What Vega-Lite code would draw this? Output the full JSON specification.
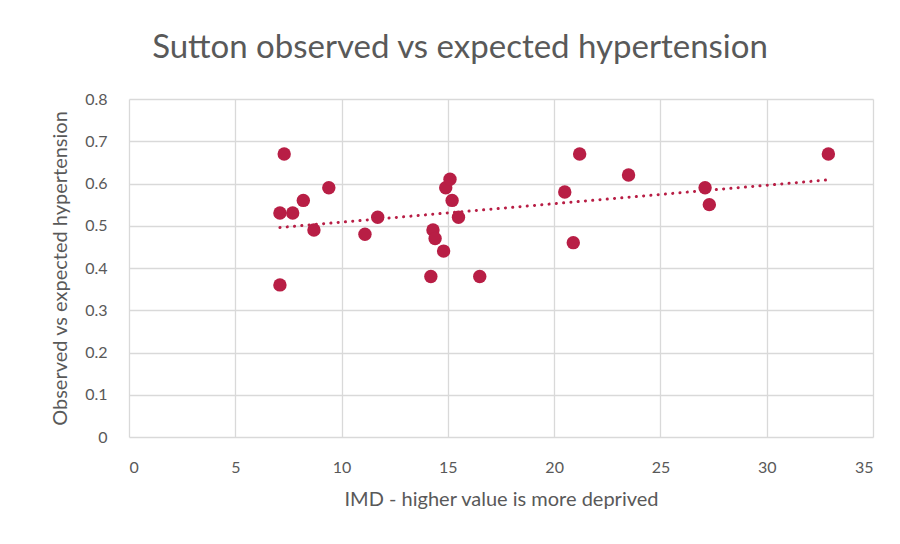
{
  "$schema": "https://vega.github.io/schema/vega-lite/v6.json",
  "autosize": "none",
  "width": 744,
  "height": 338,
  "padding": {"left": 129, "top": 99, "right": 27, "bottom": 107},
  "background": "white",
  "config": {
    "font": "Lato",
    "view": {"stroke": null},
    "axis": {"labelColor": "#595959", "titleColor": "#595959", "labelFontSize": 16, "titleFontSize": 20, "titleFontWeight": "normal", "gridColor": "#d9d9d9", "gridWidth": 1.3, "domain": false, "ticks": false, "labelOverlap": false}
  },
  "title": {"text": "Sutton observed vs expected hypertension", "fontSize": 33, "fontWeight": "normal", "color": "#595959", "anchor": "middle", "dx": -41, "offset": 26, "font": "Lato"},
  "data": {"values": [
    {"imd": 7.1, "ratio": 0.53},
    {"imd": 7.1, "ratio": 0.36},
    {"imd": 7.3, "ratio": 0.67},
    {"imd": 7.7, "ratio": 0.53},
    {"imd": 8.2, "ratio": 0.56},
    {"imd": 8.7, "ratio": 0.49},
    {"imd": 9.4, "ratio": 0.59},
    {"imd": 11.1, "ratio": 0.48},
    {"imd": 11.7, "ratio": 0.52},
    {"imd": 14.2, "ratio": 0.38},
    {"imd": 14.3, "ratio": 0.49},
    {"imd": 14.4, "ratio": 0.47},
    {"imd": 14.8, "ratio": 0.44},
    {"imd": 14.9, "ratio": 0.59},
    {"imd": 15.1, "ratio": 0.61},
    {"imd": 15.2, "ratio": 0.56},
    {"imd": 15.5, "ratio": 0.52},
    {"imd": 16.5, "ratio": 0.38},
    {"imd": 20.5, "ratio": 0.58},
    {"imd": 20.9, "ratio": 0.46},
    {"imd": 21.2, "ratio": 0.67},
    {"imd": 23.5, "ratio": 0.62},
    {"imd": 27.1, "ratio": 0.59},
    {"imd": 27.3, "ratio": 0.55},
    {"imd": 32.9, "ratio": 0.67}
  ]},
  "encoding": {
    "x": {"field": "imd", "type": "quantitative", "scale": {"domain": [0, 35], "nice": false}, "axis": {"values": [0,5,10,15,20,25,30,35], "title": "IMD - higher value is more deprived", "labelPadding": 22, "titlePadding": 14}},
    "y": {"field": "ratio", "type": "quantitative", "scale": {"domain": [0, 0.8], "nice": false}, "axis": {"values": [0,0.1,0.2,0.3,0.4,0.5,0.6,0.7,0.8], "format": ".1~f", "title": "Observed vs expected hypertension", "labelPadding": 22, "titlePadding": 14}}
  },
  "layer": [
    {
      "mark": {"type": "point", "filled": true, "size": 180, "opacity": 1, "color": "#B81E45"}
    },
    {
      "transform": [{"regression": "ratio", "on": "imd", "extent": [7.1, 32.9]}],
      "mark": {"type": "line", "color": "#B81E45", "strokeWidth": 3, "strokeDash": [0.1, 7.2], "strokeCap": "round"}
    }
  ]
}
